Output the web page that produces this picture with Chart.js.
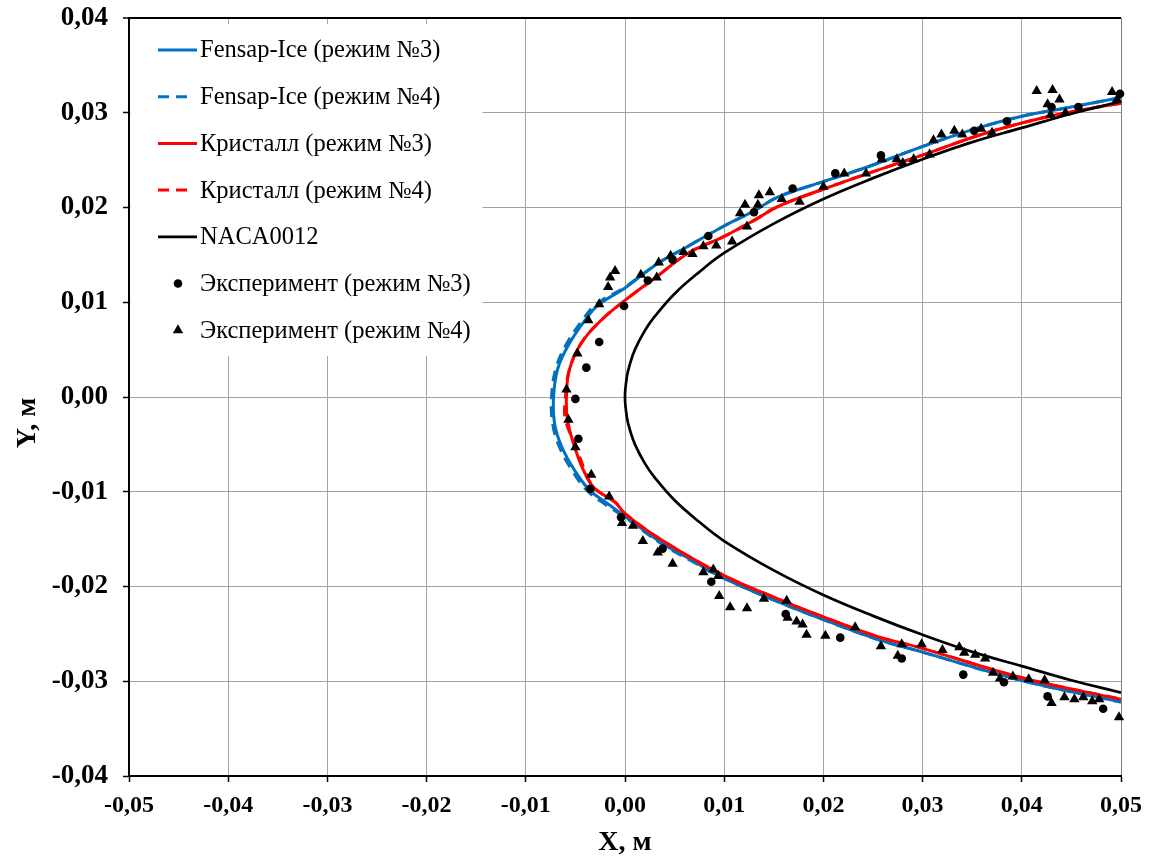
<!DOCTYPE html>
<html lang="ru">
<head>
<meta charset="utf-8">
<title>Форма ледяного нароста</title>
<script src="https://cdn.jsdelivr.net/npm/chart.js@4.4.1/dist/chart.umd.min.js"></script>
<style>
  html, body { margin: 0; padding: 0; background: #fff; }
  #wrap { width: 1149px; height: 860px; }
</style>
</head>
<body>
<div id="wrap"><canvas id="chart" width="1149" height="860"></canvas></div>
<script>
// --- Data: [X, Y] in metres, from upper surface through the nose to the lower surface ---
const fensap3 = [
  [0.0500, 0.0316], [0.0450, 0.0306], [0.0399, 0.0296], [0.0356, 0.0284], [0.0299, 0.0264],
  [0.0245, 0.0243], [0.0199, 0.0227], [0.0154, 0.0211], [0.0131, 0.0197], [0.0099, 0.0180],
  [0.0060, 0.0157], [0.0033, 0.0141], [0.0000, 0.0115], [-0.0027, 0.0097], [-0.0041, 0.0080],
  [-0.0058, 0.0053], [-0.0068, 0.0029], [-0.0072, 0.0000], [-0.0071, -0.0028], [-0.0064, -0.0052],
  [-0.0051, -0.0077], [-0.0036, -0.0098], [-0.0017, -0.0113], [0.0000, -0.0126], [0.0037, -0.0154],
  [0.0067, -0.0172], [0.0099, -0.0191], [0.0154, -0.0216], [0.0200, -0.0235], [0.0255, -0.0256],
  [0.0299, -0.0269], [0.0399, -0.0299], [0.0500, -0.0322]
];
const fensap4 = [
  [0.0500, 0.0316], [0.0450, 0.0306], [0.0399, 0.0296], [0.0356, 0.0284], [0.0299, 0.0264],
  [0.0245, 0.0243], [0.0199, 0.0227], [0.0154, 0.0211], [0.0131, 0.0197], [0.0099, 0.0180],
  [0.0060, 0.0157], [0.0033, 0.0141], [0.0000, 0.0116], [-0.0029, 0.0098], [-0.0043, 0.0081],
  [-0.0060, 0.0054], [-0.0070, 0.0029], [-0.0074, 0.0000], [-0.0073, -0.0028], [-0.0066, -0.0053],
  [-0.0053, -0.0078], [-0.0038, -0.0099], [-0.0019, -0.0114], [0.0000, -0.0127], [0.0037, -0.0155],
  [0.0067, -0.0173], [0.0099, -0.0191], [0.0154, -0.0216], [0.0200, -0.0235], [0.0255, -0.0256],
  [0.0299, -0.0269], [0.0399, -0.0299], [0.0500, -0.0322]
];
const kristall3 = [
  [0.0500, 0.0310], [0.0450, 0.0301], [0.0399, 0.0289], [0.0356, 0.0276], [0.0299, 0.0255],
  [0.0245, 0.0236], [0.0199, 0.0219], [0.0154, 0.0201], [0.0131, 0.0187], [0.0099, 0.0169],
  [0.0064, 0.0152], [0.0032, 0.0127], [0.0000, 0.0102], [-0.0024, 0.0081], [-0.0044, 0.0057],
  [-0.0056, 0.0029], [-0.0059, 0.0000], [-0.0058, -0.0024], [-0.0051, -0.0052], [-0.0042, -0.0077],
  [-0.0031, -0.0096], [-0.0010, -0.0111], [0.0000, -0.0123], [0.0037, -0.0151], [0.0099, -0.0188],
  [0.0154, -0.0213], [0.0200, -0.0232], [0.0255, -0.0253], [0.0299, -0.0265], [0.0399, -0.0296],
  [0.0500, -0.0319]
];
const kristall4 = [
  [0.0500, 0.0310], [0.0450, 0.0301], [0.0399, 0.0289], [0.0356, 0.0276], [0.0299, 0.0255],
  [0.0245, 0.0236], [0.0199, 0.0219], [0.0154, 0.0201], [0.0131, 0.0187], [0.0099, 0.0169],
  [0.0064, 0.0152], [0.0032, 0.0127], [0.0000, 0.0102], [-0.0024, 0.0081], [-0.0044, 0.0057],
  [-0.0056, 0.0029], [-0.0060, 0.0000], [-0.0060, -0.0024], [-0.0049, -0.0053], [-0.0041, -0.0076],
  [-0.0031, -0.0096], [-0.0010, -0.0111], [0.0000, -0.0123], [0.0037, -0.0151], [0.0099, -0.0188],
  [0.0154, -0.0213], [0.0200, -0.0232], [0.0255, -0.0253], [0.0299, -0.0265], [0.0399, -0.0296],
  [0.0500, -0.0319]
];
const naca0012 = [
  [0.0500, 0.0312], [0.0450, 0.0299], [0.0400, 0.0284], [0.0350, 0.0269], [0.0300, 0.0251],
  [0.0250, 0.0231], [0.0200, 0.0209], [0.0150, 0.0183], [0.0100, 0.0152], [0.0075, 0.0132],
  [0.0050, 0.0109], [0.0030, 0.0085], [0.0020, 0.0070], [0.0010, 0.0050], [0.0005, 0.0035],
  [0.0002, 0.0022], [0.0000, 0.0000], [0.0002, -0.0022], [0.0005, -0.0035], [0.0010, -0.0050],
  [0.0020, -0.0070], [0.0030, -0.0085], [0.0050, -0.0109], [0.0075, -0.0132], [0.0100, -0.0152],
  [0.0150, -0.0183], [0.0200, -0.0209], [0.0250, -0.0231], [0.0300, -0.0251], [0.0350, -0.0269],
  [0.0400, -0.0284], [0.0450, -0.0299], [0.0500, -0.0312]
];
const experiment3 = [
  [0.0499, 0.0320], [0.0457, 0.0306], [0.0430, 0.0306], [0.0385, 0.0291], [0.0352, 0.0281],
  [0.0258, 0.0255], [0.0212, 0.0236], [0.0169, 0.0220], [0.0130, 0.0195], [0.0084, 0.0170],
  [0.0048, 0.0145], [0.0023, 0.0123], [-0.0001, 0.0096], [-0.0026, 0.0058], [-0.0039, 0.0031],
  [-0.0050, -0.0002], [-0.0047, -0.0044], [-0.0035, -0.0097], [-0.0004, -0.0127], [0.0038, -0.0160],
  [0.0087, -0.0195], [0.0162, -0.0229], [0.0217, -0.0254], [0.0279, -0.0276], [0.0341, -0.0293],
  [0.0382, -0.0301], [0.0426, -0.0316], [0.0482, -0.0329]
];
const experiment4 = [
  [0.0496, 0.0314], [0.0491, 0.0322], [0.0444, 0.0300], [0.0438, 0.0314], [0.0431, 0.0324],
  [0.0429, 0.0298], [0.0426, 0.0309], [0.0415, 0.0323], [0.0370, 0.0279], [0.0359, 0.0283],
  [0.0340, 0.0277], [0.0332, 0.0281], [0.0319, 0.0277], [0.0311, 0.0271], [0.0307, 0.0256],
  [0.0291, 0.0251], [0.0280, 0.0247], [0.0274, 0.0251], [0.0259, 0.0251], [0.0243, 0.0236],
  [0.0221, 0.0236], [0.0200, 0.0222], [0.0176, 0.0206], [0.0158, 0.0209], [0.0146, 0.0216],
  [0.0135, 0.0213], [0.0134, 0.0203], [0.0121, 0.0203], [0.0116, 0.0194], [0.0123, 0.0180],
  [0.0108, 0.0164], [0.0092, 0.0160], [0.0079, 0.0159], [0.0068, 0.0151], [0.0059, 0.0153],
  [0.0046, 0.0149], [0.0034, 0.0142], [0.0032, 0.0126], [0.0016, 0.0129], [-0.0010, 0.0133],
  [-0.0015, 0.0126], [-0.0017, 0.0116], [-0.0026, 0.0098], [-0.0037, 0.0081], [-0.0048, 0.0046],
  [-0.0059, 0.0008], [-0.0057, -0.0024], [-0.0050, -0.0053], [-0.0034, -0.0082], [-0.0016, -0.0105],
  [-0.0003, -0.0133], [0.0008, -0.0136], [0.0018, -0.0152], [0.0033, -0.0164], [0.0048, -0.0176],
  [0.0079, -0.0185], [0.0089, -0.0182], [0.0094, -0.0189], [0.0095, -0.0210], [0.0106, -0.0222],
  [0.0123, -0.0223], [0.0140, -0.0213], [0.0163, -0.0215], [0.0164, -0.0233], [0.0173, -0.0237],
  [0.0179, -0.0240], [0.0183, -0.0251], [0.0202, -0.0252], [0.0232, -0.0243], [0.0258, -0.0263],
  [0.0275, -0.0273], [0.0279, -0.0261], [0.0299, -0.0261], [0.0320, -0.0267], [0.0337, -0.0264],
  [0.0342, -0.0270], [0.0353, -0.0272], [0.0363, -0.0276], [0.0371, -0.0291], [0.0378, -0.0297],
  [0.0391, -0.0295], [0.0407, -0.0298], [0.0423, -0.0299], [0.0430, -0.0323], [0.0443, -0.0317],
  [0.0453, -0.0319], [0.0462, -0.0317], [0.0471, -0.0321], [0.0478, -0.0319], [0.0498, -0.0338]
];

// --- Axis ticks ---
const xTickValues = [-0.05, -0.04, -0.03, -0.02, -0.01, 0, 0.01, 0.02, 0.03, 0.04, 0.05];
const xTickLabels = ['-0,05', '-0,04', '-0,03', '-0,02', '-0,01', '0,00', '0,01', '0,02', '0,03', '0,04', '0,05'];
const yTickValues = [-0.04, -0.03, -0.02, -0.01, 0, 0.01, 0.02, 0.03, 0.04];
const yTickLabels = ['-0,04', '-0,03', '-0,02', '-0,01', '0,00', '0,01', '0,02', '0,03', '0,04'];

const blue = '#0070C0';
const red = '#FF0000';
const serif = '"Liberation Serif", "Times New Roman", serif';
const gridGray = '#a3a3a3';

function toXY(arr) {
  return arr.map(p => ({ x: p[0], y: p[1] }));
}

function curve(label, data, color, dashed, width, order) {
  return {
    label: label,
    data: toXY(data),
    showLine: true,
    borderColor: color,
    backgroundColor: color,
    borderWidth: width,
    borderDash: dashed ? [11, 7] : [],
    pointRadius: 0,
    tension: 0.4,
    order: order
  };
}

function markers(label, data, style, radius, order) {
  return {
    label: label,
    data: toXY(data),
    showLine: false,
    pointStyle: style,
    pointRadius: radius,
    backgroundColor: '#000',
    borderColor: '#000',
    borderWidth: 0,
    clip: false,
    order: order
  };
}

// Legend in the upper-left corner of the plot, on a white panel
const insideLegend = {
  id: 'insideLegend',
  afterDatasetsDraw(chart) {
    const ctx = chart.ctx;
    const area = chart.chartArea;
    ctx.save();
    ctx.fillStyle = '#fff';
    ctx.fillRect(area.left + 1.5, area.top + 6, 352, 332);
    ctx.font = '24.5px ' + serif;
    ctx.textBaseline = 'middle';
    ctx.textAlign = 'left';
    chart.data.datasets.forEach(function (ds, i) {
      const y = area.top + 32 + i * 46.7;
      const x0 = area.left + 29;
      if (ds.showLine) {
        const dashed = ds.borderDash.length > 0;
        ctx.strokeStyle = ds.borderColor;
        ctx.lineWidth = ds.borderWidth;
        ctx.setLineDash(ds.borderDash);
        ctx.beginPath();
        ctx.moveTo(x0, y);
        ctx.lineTo(x0 + (dashed ? 30 : 39), y);
        ctx.stroke();
        ctx.setLineDash([]);
      } else {
        ctx.fillStyle = '#000';
        Chart.helpers.drawPoint(ctx, { pointStyle: ds.pointStyle, radius: ds.pointRadius, borderWidth: 0 }, x0 + 20, y);
      }
      ctx.fillStyle = '#000';
      ctx.fillText(ds.label, area.left + 71, y + 1);
    });
    ctx.restore();
  }
};

// Y axis caption, rotated, sitting a little below the middle of the axis
const yCaption = {
  id: 'yCaption',
  afterDraw(chart) {
    const ctx = chart.ctx;
    const area = chart.chartArea;
    ctx.save();
    ctx.translate(28, (area.top + area.bottom) / 2 + 26);
    ctx.rotate(-Math.PI / 2);
    ctx.font = 'bold 28px ' + serif;
    ctx.fillStyle = '#000';
    ctx.textAlign = 'center';
    ctx.textBaseline = 'middle';
    ctx.fillText('Y, м', 0, 0);
    ctx.restore();
  }
};

const ctx = document.getElementById('chart').getContext('2d');

new Chart(ctx, {
  type: 'scatter',
  data: {
    datasets: [
      curve('Fensap-Ice (режим №3)', fensap3, blue, false, 3, 7),
      curve('Fensap-Ice (режим №4)', fensap4, blue, true, 3, 6),
      curve('Кристалл (режим №3)', kristall3, red, false, 3, 5),
      curve('Кристалл (режим №4)', kristall4, red, true, 3, 4),
      curve('NACA0012', naca0012, '#000', false, 2.7, 3),
      markers('Эксперимент (режим №3)', experiment3, 'circle', 4.3, 2),
      markers('Эксперимент (режим №4)', experiment4, 'triangle', 6, 1)
    ]
  },
  options: {
    responsive: false,
    animation: false,
    layout: { padding: { top: 18, right: 28, left: 0, bottom: 0 } },
    plugins: {
      legend: { display: false },
      tooltip: { enabled: false }
    },
    scales: {
      x: {
        type: 'linear',
        min: -0.05,
        max: 0.05,
        afterBuildTicks: function (scale) {
          scale.ticks = xTickValues.map(v => ({ value: v }));
        },
        afterFit: function (scale) {
          scale.height = 84;
          scale.paddingLeft = 0;
          scale.paddingRight = 0;
        },
        ticks: {
          autoSkip: false,
          maxRotation: 0,
          padding: 9,
          color: '#000',
          font: { family: serif, size: 24, weight: 'bold' },
          callback: function (value, index) { return xTickLabels[index]; }
        },
        grid: {
          color: function (c) { return c.tick && c.tick.value === 0.05 ? '#7f7f7f' : gridGray; },
          lineWidth: 1,
          tickLength: 6,
          tickColor: '#000',
          tickWidth: 1.5
        },
        border: { color: '#000', width: 2 },
        title: {
          display: true,
          text: 'X, м',
          color: '#000',
          font: { family: serif, size: 28, weight: 'bold' },
          padding: { top: 0, bottom: 0 }
        }
      },
      y: {
        type: 'linear',
        min: -0.04,
        max: 0.04,
        afterBuildTicks: function (scale) {
          scale.ticks = yTickValues.map(v => ({ value: v }));
        },
        afterFit: function (scale) {
          scale.width = 129;
          scale.paddingTop = 0;
          scale.paddingBottom = 0;
        },
        ticks: {
          autoSkip: false,
          padding: 15,
          color: '#000',
          font: { family: serif, size: 27, weight: 'bold' },
          callback: function (value, index) { return yTickLabels[index]; }
        },
        grid: {
          color: function (c) { return c.tick && c.tick.value === 0.04 ? '#000' : gridGray; },
          lineWidth: function (c) { return c.tick && c.tick.value === 0.04 ? 2 : 1; },
          tickLength: 6,
          tickColor: '#000',
          tickWidth: 1.5
        },
        border: { color: '#000', width: 2 }
      }
    }
  },
  plugins: [insideLegend, yCaption]
});
</script>
</body>
</html>
